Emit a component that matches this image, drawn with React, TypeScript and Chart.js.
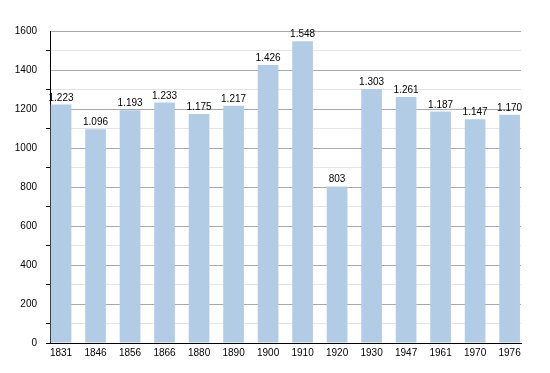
import React, { useEffect, useRef } from "react";
import { Chart, registerables } from "chart.js";

Chart.register(...registerables);

const years = ["1831", "1846", "1856", "1866", "1880", "1890", "1900", "1910", "1920", "1930", "1947", "1961", "1970", "1976"];
const population = [1223, 1096, 1193, 1233, 1175, 1217, 1426, 1548, 803, 1303, 1261, 1187, 1147, 1170];
const yTicks = { min: 0, max: 1600, step: 100, labelEvery: 200 };

const FONT = "'Liberation Sans', Arial, sans-serif";

const fmt = (v: number) => String(v).replace(/\B(?=(\d{3})+(?!\d))/g, ".");

const labelPlugin = {
  id: "valueLabels",
  afterDatasetsDraw(chart: any) {
    const ctx = chart.ctx;
    const meta = chart.getDatasetMeta(0);
    ctx.save();
    ctx.font = `10px ${FONT}`;
    ctx.fillStyle = "#000";
    ctx.textAlign = "center";
    ctx.textBaseline = "alphabetic";
    meta.data.forEach((el: any, i: number) => {
      ctx.fillText(fmt(population[i]), el.x, el.y - 4);
    });
    ctx.restore();
  },
};

export default function App() {
  const ref = useRef<HTMLCanvasElement | null>(null);
  useEffect(() => {
    document.body.style.margin = "0";
    const chart = new Chart(ref.current!, {
      type: "bar",
      data: {
        datasets: [
          {
            data: population.map((v, i) => ({ x: i, y: v })),
            backgroundColor: "rgb(179, 204, 230)",
            barPercentage: 0.6,
            categoryPercentage: 1,
          },
        ],
      },
      options: {
        responsive: false,
        devicePixelRatio: 1,
        animation: false,
        layout: { padding: { top: 31, right: 29, left: 0, bottom: 0 } },
        plugins: { legend: { display: false }, tooltip: { enabled: false } },
        scales: {
          x: {
            type: "linear",
            min: -0.32,
            max: 13.33,
            offset: false,
            grid: { display: false, drawTicks: false, offset: false },
            border: { display: true, color: "#000", width: 1 },
            afterBuildTicks: (s: any) => {
              s.ticks = years.map((_, i) => ({ value: i }));
            },
            afterFit: (s: any) => {
              s.height = 30;
            },
            ticks: {
              autoSkip: false,
              maxRotation: 0,
              padding: 4,
              color: "#000",
              font: { family: FONT, size: 10 },
              callback: (v: any) => years[v] ?? "",
            },
          },
          y: {
            min: yTicks.min,
            max: yTicks.max,
            afterFit: (s: any) => {
              s.width = 50;
            },
            border: { display: true, color: "#000", width: 1 },
            grid: {
              color: (c: any) => (c.tick && c.tick.value % yTicks.labelEvery === 0 ? "#a8a8a8" : "#e4e4e4"),
              tickColor: (c: any) =>
                c.tick && c.tick.value % yTicks.labelEvery === 0 && c.tick.value !== 0 ? "rgba(0,0,0,0)" : "#000",
              tickLength: 4,
            },
            ticks: {
              stepSize: yTicks.step,
              padding: 9,
              color: "#000",
              font: { family: FONT, size: 10 },
              callback: (v: any) => (v % yTicks.labelEvery === 0 ? String(v) : ""),
            },
          },
        },
      },
      plugins: [labelPlugin],
    });
    return () => chart.destroy();
  }, []);
  return <canvas ref={ref} width={550} height={373} style={{ display: "block", width: 550, height: 373 }} />;
}
